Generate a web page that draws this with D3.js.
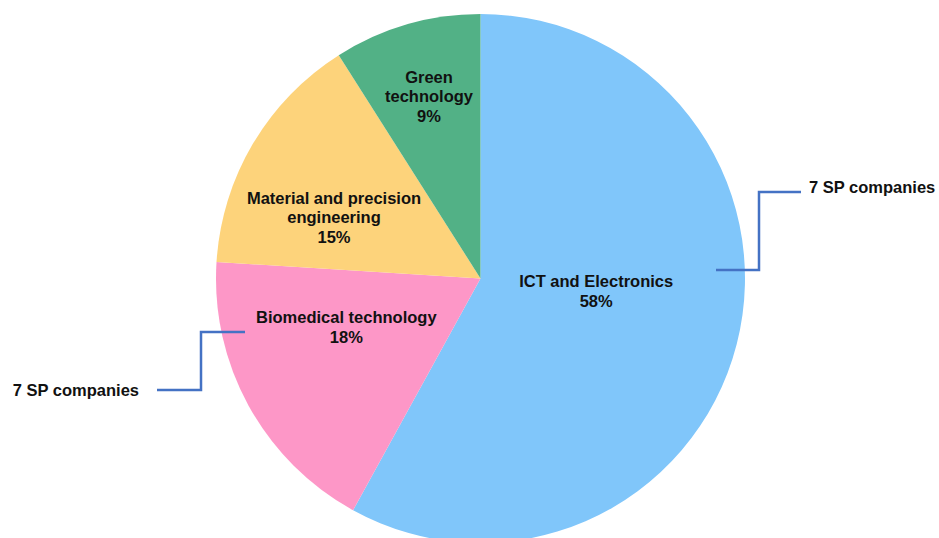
<!DOCTYPE html>
<html>
<head>
<meta charset="utf-8">
<script src="https://cdn.jsdelivr.net/npm/d3@7"></script>
<style>
  html, body { margin: 0; padding: 0; background: #fff; }
  svg { display: block; }
  text { font-family: "Liberation Sans", Arial, sans-serif; font-weight: bold; fill: #111; }
</style>
</head>
<body>
<svg id="chart" width="939" height="538"></svg>
<script>
// Sector shares (%) in drawing order, clockwise from 12 o'clock
const categories = ["ICT and Electronics", "Biomedical technology", "Material and precision engineering", "Green technology"];
const shares = [58, 18, 15, 9];
const colors = ["#80C6FA", "#FD97C7", "#FDD37B", "#52B186"];
// Label lines per slice (name wrapped as drawn)
const labelLines = [
  ["ICT and Electronics"],
  ["Biomedical technology"],
  ["Material and precision", "engineering"],
  ["Green", "technology"]
];
// Callout annotations
const calloutText = ["7 SP companies", "7 SP companies"];

const W = 939, H = 538;
const cx = 480.5, cy = 278.5, R = 264.5;
const fontSize = 16.5;

const svg = d3.select("#chart");
const g = svg.append("g").attr("transform", `translate(${cx},${cy})`);

const data = categories.map((c, i) => ({ name: c, value: shares[i], color: colors[i], lines: labelLines[i] }));

const pie = d3.pie().value(d => d.value).sort(null);
const arcs = pie(data);
const arc = d3.arc().innerRadius(0).outerRadius(R);

g.selectAll("path.slice")
  .data(arcs)
  .join("path")
  .attr("class", "slice")
  .attr("d", arc)
  .attr("fill", d => d.data.color);

// Label anchor in polar form: angle (deg from top, clockwise) and radius fraction
const labelPolar = [
  { a: 96.4, f: 0.44 },
  { a: 250, f: 0.54 },
  { a: 292.6, f: 0.60 },
  { a: 344.2, f: 0.715 }
];
const lineH = 19.8;

arcs.forEach((d, i) => {
  const p = labelPolar[i];
  const ang = p.a * Math.PI / 180;
  const x = Math.sin(ang) * R * p.f;
  const y = -Math.cos(ang) * R * p.f;
  const lines = d.data.lines.concat([d3.format(".0f")(d.data.value) + "%"]);
  const t = g.append("text")
    .attr("text-anchor", "middle")
    .attr("font-size", fontSize)
    .attr("x", x)
    .attr("y", y - (lines.length - 1) * lineH / 2);
  lines.forEach((ln, j) => {
    t.append("tspan").attr("x", x).attr("dy", j === 0 ? "0.35em" : lineH).text(ln);
  });
});

// Elbow callout lines
const callouts = [
  { pts: [[R - 29, -8.5], [R + 14, -8.5], [R + 14, -86.5], [R + 56, -86.5]], tx: R + 64, ty: -91, anchor: "start" },
  { pts: [[-R + 29, 53.5], [-R - 15, 53.5], [-R - 15, 111.5], [-R - 59, 111.5]], tx: -R - 77, ty: 111.5, anchor: "end" }
];
const line = d3.line();
callouts.forEach((c, i) => {
  g.append("path")
    .attr("d", line(c.pts))
    .attr("fill", "none")
    .attr("stroke", "#4472C4")
    .attr("stroke-width", 2.5);
  g.append("text")
    .attr("x", c.tx)
    .attr("y", c.ty)
    .attr("dy", "0.35em")
    .attr("text-anchor", c.anchor)
    .attr("font-size", fontSize)
    .text(calloutText[i]);
});
</script>
</body>
</html>
